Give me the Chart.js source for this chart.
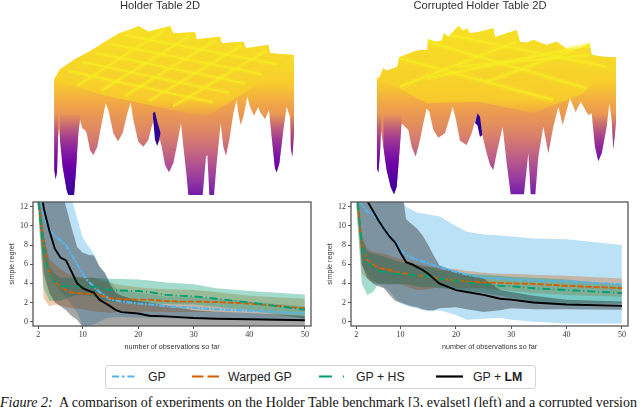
<!DOCTYPE html>
<html><head><meta charset="utf-8">
<script src="https://cdn.jsdelivr.net/npm/chart.js@4"></script>
<style>
html,body{margin:0;padding:0;background:#fff;width:640px;height:407px;overflow:hidden}
canvas{position:absolute}
#legend{position:absolute;left:105px;top:365px;width:429px;height:22px;border:1.5px solid #d4d4d4;border-radius:3px;font:12.3px "Liberation Sans",sans-serif;color:#222;box-sizing:content-box}
#legend span{position:absolute;top:3.5px;white-space:nowrap}
#legend svg{position:absolute;top:0;left:0}
#caption{position:absolute;left:0;top:395px;width:680px;white-space:nowrap;font:14px "Liberation Serif",serif;color:#111}
</style></head><body>
<canvas id="s1" width="320" height="195" style="left:0;top:0"></canvas>
<canvas id="s2" width="320" height="195" style="left:320px;top:0"></canvas>
<canvas id="c1" width="320" height="160" style="left:0;top:195px"></canvas>
<canvas id="c2" width="320" height="160" style="left:320px;top:195px"></canvas>
<div id="legend">
<svg width="429" height="22">
<line x1="6" x2="33" y1="10.5" y2="10.5" stroke="#56B4E9" stroke-width="2.2" stroke-dasharray="7,3,2.5,3,7"/>
<line x1="86" x2="113" y1="10.5" y2="10.5" stroke="#D55E00" stroke-width="2.2" stroke-dasharray="11.5,4"/>
<line x1="213" x2="240" y1="10.5" y2="10.5" stroke="#009E73" stroke-width="2.2" stroke-dasharray="13,11,1,2"/>
<line x1="330" x2="357" y1="10.5" y2="10.5" stroke="#000" stroke-width="2.2"/>
</svg>
<span style="left:42px">GP</span>
<span style="left:122px">Warped GP</span>
<span style="left:250px">GP + HS</span>
<span style="left:367px">GP + <b>LM</b></span>
</div>
<div id="caption"><i>Figure 2:</i>&nbsp; A comparison of experiments on the Holder Table benchmark [3, evalset] (left) and a corrupted version</div>
<script>
const observations=[2,3,4,5,6,7,8,9,10,11,12,13,14,15,16,17,20,22,25,28,30,34,40,50];
const xTickValues=[2,10,20,30,40,50];
const yTickValues=[0,2,4,6,8,10,12];
const seriesNames=["GP","Warped GP","GP + HS","GP + LM"];

// Holder Table 2D: simple regret
const leftGpMean=[14,11,9.6,9,8.5,8,7,6,5,4.2,3.7,3.1,2.7,2.3,2.2,2.1,1.9,1.8,1.6,1.5,1.45,1.3,1.15,.85];
const leftGpHigh=[16,16,16,16,16,15,12.8,10.8,8.8,7.9,7.1,5.8,5,4.1,3.5,3.3,3,2.9,2.6,2.6,2.6,2.4,2.1,1.6];
const leftGpLow=[12,7,5,4,3.2,2.5,1.8,1,-.5,-.5,-.3,0,.3,.4,.5,.5,.4,.4,.35,.3,.3,.25,.2,.1];
const leftWarpedMean=[13,8,5.2,4.1,3.7,3.3,3.05,3,2.95,2.9,2.9,2.8,2.6,2.45,2.4,2.35,2.3,2.3,2.15,2.1,2.1,2.05,1.9,1.4];
const leftWarpedHigh=[14,9,6.5,6,5.5,5.1,4.8,4.7,4.65,4.6,4.6,4.4,4.2,4.1,3.9,3.8,3.6,3.5,3.4,3.35,3.3,3.1,2.7,2.4];
const leftWarpedLow=[12,2.4,1.6,1.8,1.7,1.5,1.4,1.35,1.3,1.2,1.1,1,1,.9,1,1,1.05,1.05,1,1,1,1,.9,.4];
const leftHsMean=[12.5,7.5,5,4,3.7,3.7,3.7,3.7,3.65,3.65,3.65,3.6,3.45,3.3,3.25,3.25,3.2,3.1,2.8,2.7,2.65,2.4,2,1.25];
const leftHsHigh=[14,9,5.8,5,4.6,4.6,4.6,4.6,4.6,4.6,4.6,4.55,4.5,4.45,4.45,4.45,4.4,4.3,4.1,4,3.9,3.5,3.2,2.85];
const leftHsLow=[11,3.5,2.2,2.2,2.2,2.4,2.6,2.8,2.8,2.7,2.6,2.4,2.2,2.1,2,2,1.9,1.9,1.85,1.8,1.8,1.55,1.2,.3];
const leftLmMean=[16,11.8,9.5,7.6,6.7,6.4,5.2,4,3.5,3.25,3.05,2.3,1.95,1.6,1.2,1,.85,.62,.55,.45,.38,.3,.25,.15];
const leftLmHigh=[16,16,16,16,14,12,9.8,7.8,7.2,7,6.9,5.8,5.1,3.8,3,2.7,2.2,2,1.7,1.4,1.2,1.05,.9,.6];
const leftLmLow=[12,5,3,2,1.6,1.2,.6,.2,-.6,-.6,-.6,-.6,-.6,-.6,-.6,-.6,-.6,-.6,-.6,-.6,-.6,-.6,-.6,-.6];

// Corrupted Holder Table 2D: simple regret
const rightGpMean=[15,12.2,11.5,11.2,10.8,9.8,9,8.4,7.5,7,6.7,6.5,6.3,6.1,5.9,5.7,5.2,4.9,4.6,4.5,4.4,4.3,4.2,3.9];
const rightGpHigh=[17,17,17,17,17,17,17,17,13,12,11.7,11.4,11.3,11.2,11.1,11,10,9.4,9.1,9,8.9,8.7,8.6,8];
const rightGpLow=[13,6,5,4.3,3.9,3.6,3.2,2.5,1.9,1.7,1.5,1.4,1.2,1.1,1.1,1.2,.7,.2,.3,.4,.2,0,-.2,-.2];
const rightWarpedMean=[14,8,6.4,6,5.6,5.5,5.4,5.2,5.1,5,4.9,4.8,4.8,4.7,4.6,4.5,4.3,4.2,4.1,4.05,4,3.95,3.75,3.5];
const rightWarpedHigh=[15,9,7.6,7.3,7.2,7.1,6.9,6.7,6.5,6.4,6.2,6,5.9,5.8,5.7,5.6,5.5,5.3,5.1,5,5,4.9,4.8,4.5];
const rightWarpedLow=[12,5,4.5,4.2,4,4,3.9,3.9,3.9,3.7,3.5,3.3,3.3,3.4,3.5,3.6,3.5,3.5,3.5,3.3,3.2,3,2.8,2.6];
const rightHsMean=[14,8,6.2,5.7,5.3,5.2,5.1,5,5,4.9,4.9,4.8,4.8,4.7,4.6,4.5,4.3,4.1,3.9,3.75,3.7,3.5,3.3,3];
const rightHsHigh=[15,8.6,7.3,7.1,7,6.8,6.6,6.4,6.2,6.1,6,5.9,5.8,5.7,5.6,5.4,5.2,5,4.9,4.8,4.7,4.6,4.4,3.8];
const rightHsLow=[12,4,2.8,3.1,3.9,3.9,3.9,3.9,3.9,3.9,3.8,3.7,3.6,3.6,3.6,3.5,3.4,3.2,3,2.7,2.5,2,1.9,1.9];
const rightLmMean=[17,14,12.6,11.6,10.6,9.7,8.9,8.3,7.2,6.2,6,5.7,5.4,5,4.5,4,3.3,3.1,2.8,2.4,2.3,2,1.8,1.65];
const rightLmHigh=[17,17,17,17,17,17,17,17,15,10.7,10.2,9.7,9,8,6.9,5.9,5.2,4.9,4.5,3.3,3.1,2.7,2.3,2.1];
const rightLmLow=[14,6,4.5,4,3.7,3.5,2.8,2.2,2,1.8,1.6,1.5,1.3,1.2,1.2,1.4,1.5,1.3,1,1.2,1.4,1.3,1.3,1.25];

// Surface silhouettes in projected units
const s1TopX=[162,180,225,272,315,358,402,415,445,510,520,585,590,660,665,730,738,805,810,882];
const s1TopY=[240,208,178,152,125,100,85,78,95,78,100,97,118,110,130,125,145,135,160,165];
const s1BotX=[162,163,167,171,174,177,180,188,200,205,222,228,235,240,247,255,260,270,280,292,305,317,325,340,354,368,382,392,400,415,430,445,455,465,470,480,485,495,507,520,530,543,548,560,565,608,618,622,628,642,650,662,670,678,688,700,710,715,722,730,742,750,762,775,780,795,807,815,825,830,838,850,860,870,872,877,882];
const s1BotY=[240,510,538,515,420,385,420,500,570,585,585,510,400,360,385,390,400,450,466,440,370,310,330,400,424,400,340,308,360,425,440,420,380,350,437,420,440,495,517,490,440,370,420,530,585,585,470,465,585,585,490,370,440,467,420,340,300,340,375,350,290,320,347,320,335,358,330,410,505,517,490,390,320,350,440,470,400];
const s1PlateauX=[162,310,540,620,745,882];
const s1PlateauY=[240,285,335,350,270,165];
const s1WellsX=[[162,163,167,171,174],[180,188,200,205,222,228,235,240],[807,815,825,830,838,850,860],[872,877,882]];
const s1WellsTop=[[340,340,340,340,340],[340,340,340,340,340,340,340,340],[300,300,300,300,300,300,300],[300,300,300]];
const s1WellsBot=[[340,510,538,515,420],[420,500,570,585,585,510,400,360],[330,410,505,517,490,390,320],[440,470,400]];
const s1SliverX=[458,465,472,482];
const s1SliverTop=[340,335,365,400];
const s1SliverBot=[340,420,437,400];
const s1RidgeX=[[204,638],[246,687],[288,735],[331,783],[373,832],[492,233],[570,305],[647,376],[725,447],[802,519]];
const s1RidgeY=[[213,307],[186,278],[159,250],[132,222],[105,193],[92,256],[107,272],[121,287],[136,303],[150,319]];

const s2TopX=[170,175,190,200,232,238,280,300,322,325,345,365,372,385,400,415,430,440,450,480,520,525,560,590,600,620,640,680,710,745,780,808,815,850,888];
const s2TopY=[230,240,205,212,200,172,155,150,150,118,125,122,100,110,95,78,92,85,100,95,85,112,100,90,125,128,120,135,125,150,145,130,165,170,172];
const s2BotX=[170,171,175,180,183,190,200,212,222,230,238,245,255,265,275,287,300,310,320,328,340,355,375,390,398,408,420,440,455,472,480,487,500,510,520,530,548,560,572,612,625,632,646,655,670,685,700,715,728,750,767,782,805,815,825,835,845,860,868,875,880,888];
const s2BotY=[230,505,518,460,390,440,510,560,583,560,460,370,380,390,440,470,420,370,325,335,390,413,400,350,320,360,422,435,400,340,410,405,460,495,510,460,380,490,583,583,460,583,583,470,380,460,380,320,375,295,337,305,345,340,440,483,460,380,310,360,448,370];
const s2PlateauX=[170,320,480,640,790,888];
const s2PlateauY=[230,310,305,340,280,172];
const s2WellsX=[[170,171,175,180,183],[190,200,212,222,230,238,245],[815,825,835,845,860,868],[875,880,888]];
const s2WellsTop=[[330,330,330,330,330],[330,330,330,330,330,330,330],[300,300,300,300,300,300],[300,300,300]];
const s2WellsBot=[[330,505,518,460,390],[440,510,560,583,560,460,370],[340,440,483,460,380,310],[360,448,370]];
const s2SliverX=[465,472,480,487];
const s2SliverTop=[370,340,350,405];
const s2SliverBot=[370,375,410,405];
const s2RidgeX=[[240,590],[322,810],[410,810],[322,800],[240,700],[390,860],[500,760]];
const s2RidgeY=[[260,125],[235,135],[200,165],[125,265],[175,300],[105,200],[245,150]];

const BLUE="#56B4E9",ORANGE="#D55E00",GREEN="#009E73";
const pts=(xs,ys)=>xs.map((x,i)=>({x,y:ys[i]}));

function lineSet(mean,color,dash,order,w){
  return {label:"",data:pts(observations,mean),borderColor:color,borderWidth:w||1.9,borderDash:dash,pointRadius:0,fill:false,order,tension:0};
}
function bandSets(high,low,fill,order){
  return [
    {data:pts(observations,high),borderWidth:0,borderColor:"transparent",pointRadius:0,fill:false,order},
    {data:pts(observations,low),borderWidth:0,borderColor:"transparent",pointRadius:0,fill:"-1",backgroundColor:fill,order}
  ];
}
const boxPlugin={id:"box",afterDatasetsDraw(ch){
  const a=ch.chartArea,c=ch.ctx;c.save();c.strokeStyle="#555";c.lineWidth=1.3;
  c.strokeRect(a.left,a.top,a.right-a.left,a.bottom-a.top);c.restore();
}};
const serif='"Liberation Serif",serif',sans='"Liberation Sans",sans-serif';
function regret(id,leftW,rightPad,arr){
  new Chart(document.getElementById(id),{type:"line",plugins:[boxPlugin],
    data:{datasets:[
      lineSet(arr.lmM,"#000",[],1),
      lineSet(arr.hsM,GREEN,[8,3,1,3],2),
      lineSet(arr.wM,ORANGE,[6,2],3),
      lineSet(arr.gpM,BLUE,[6,1.5,2,1.5],4,2.2),
      ...bandSets(arr.lmH,arr.lmL,"rgba(40,40,40,.42)",5),
      ...bandSets(arr.hsH,arr.hsL,"rgba(0,158,115,.36)",6),
      ...bandSets(arr.wH,arr.wL,"rgba(213,94,0,.32)",7),
      ...bandSets(arr.gpH,arr.gpL,"rgba(86,180,233,.40)",8)
    ]},
    options:{responsive:false,animation:false,
      layout:{padding:{top:7,right:rightPad,left:0,bottom:0}},
      plugins:{legend:{display:false},tooltip:{enabled:false}},
      scales:{
        x:{type:"linear",min:1.05,max:51.1,grid:{drawOnChartArea:false,tickLength:3,color:"#555"},border:{display:false},
          afterBuildTicks:s=>{s.ticks=xTickValues.map(v=>({value:v}))},
          afterFit:s=>{s.height=29},
          ticks:{font:{family:serif,size:8},color:"#333",maxRotation:0,padding:1,autoSkip:false},
          title:{display:true,text:"number of observations so far",font:{family:sans,size:7.2},color:"#333",padding:{top:0,bottom:4}}},
        y:{type:"linear",min:-0.45,max:12.5,grid:{drawOnChartArea:false,tickLength:3,color:"#555"},border:{display:false},
          afterBuildTicks:s=>{s.ticks=yTickValues.map(v=>({value:v}))},
          afterFit:s=>{s.width=leftW},
          ticks:{font:{family:serif,size:8},color:"#333",padding:2,autoSkip:false},
          title:{display:true,text:"simple regret",font:{family:sans,size:7.2},color:"#333",padding:{top:leftW-25,bottom:0}}}
      }}});
}
regret("c1",33,9,{gpM:leftGpMean,gpH:leftGpHigh,gpL:leftGpLow,wM:leftWarpedMean,wH:leftWarpedHigh,wL:leftWarpedLow,hsM:leftHsMean,hsH:leftHsHigh,hsL:leftHsLow,lmM:leftLmMean,lmH:leftLmHigh,lmL:leftLmLow});
regret("c2",31,12,{gpM:rightGpMean,gpH:rightGpHigh,gpL:rightGpLow,wM:rightWarpedMean,wH:rightWarpedHigh,wL:rightWarpedLow,hsM:rightHsMean,hsH:rightHsHigh,hsL:rightHsLow,lmM:rightLmMean,lmH:rightLmHigh,lmL:rightLmLow});

function gradient(stops,fallback){
  return c=>{
    const ch=c.chart;if(!ch.chartArea||!ch.scales.y)return fallback;
    const y=ch.scales.y,g=ch.ctx.createLinearGradient(0,y.getPixelForValue(stops[0][0]),0,y.getPixelForValue(stops[stops.length-1][0]));
    const a=stops[0][0],b=stops[stops.length-1][0];
    stops.forEach(s=>g.addColorStop((s[0]-a)/(b-a),s[1]));
    return g;
  };
}
const bodyStops=[[130,"#f3e925"],[250,"#f8cb2c"],[320,"#efa24a"],[400,"#dc8468"],[470,"#bd5f86"],[530,"#9b3f9f"],[590,"#6f17aa"]];
const plateauStops=[[80,"#f6e024"],[240,"#f7d12a"],[300,"rgba(248,205,42,.9)"],[355,"rgba(248,190,45,0)"]];
const wellStops=[[340,"rgba(126,3,168,0)"],[420,"rgba(122,10,170,.6)"],[500,"#6a00a8"],[590,"#2f049a"]];
const hidden={borderWidth:0,borderColor:"transparent",pointRadius:0,fill:false};
function surface(id,title,d){
  const ridges=d.rx.flatMap((rx,i)=>[
    {data:pts(rx,d.ry[i]),borderColor:"rgba(248,240,35,.6)",borderWidth:d.rw,pointRadius:0,fill:false,order:1},
    {data:pts(rx,d.ry[i]),borderColor:"rgba(248,235,35,.28)",borderWidth:d.rw*2.6,pointRadius:0,fill:false,order:1}
  ]);
  const wells=d.wx.flatMap((wx,i)=>[
    {...hidden,data:pts(wx,d.wt[i]),order:3},
    {...hidden,data:pts(wx,d.wb[i]),fill:"-1",backgroundColor:gradient(wellStops,"#6a00a8"),order:3}
  ]);
  new Chart(document.getElementById(id),{type:"line",
    data:{datasets:[
      ...ridges,
      {...hidden,data:pts(d.sx,d.st),order:2},
      {...hidden,data:pts(d.sx,d.sb),fill:"-1",backgroundColor:"#2c0594",order:2},
      ...wells,
      {...hidden,data:pts(d.tx,d.ty),order:4},
      {...hidden,data:pts(d.px,d.py),fill:"-1",backgroundColor:gradient(plateauStops,"#f7cd2c"),order:4},
      {...hidden,data:pts(d.tx,d.ty),order:5},
      {...hidden,data:pts(d.bx,d.by),fill:"-1",backgroundColor:gradient(bodyStops,"#f9c52e"),order:5}
    ]},
    options:{responsive:false,animation:false,layout:{padding:0},
      plugins:{legend:{display:false},tooltip:{enabled:false},
        title:{display:true,text:title,color:"#333",font:{family:sans,size:11.2,weight:"normal",lineHeight:1},padding:0}},
      scales:{x:{type:"linear",min:0,max:960,display:false},y:{type:"linear",reverse:true,min:33.6,max:585,display:false}}}});
}
surface("s1","Holder Table 2D",{tx:s1TopX,ty:s1TopY,bx:s1BotX,by:s1BotY,px:s1PlateauX,py:s1PlateauY,wx:s1WellsX,wt:s1WellsTop,wb:s1WellsBot,sx:s1SliverX,st:s1SliverTop,sb:s1SliverBot,rx:s1RidgeX,ry:s1RidgeY,rw:2});
surface("s2","Corrupted Holder Table 2D",{tx:s2TopX,ty:s2TopY,bx:s2BotX,by:s2BotY,px:s2PlateauX,py:s2PlateauY,wx:s2WellsX,wt:s2WellsTop,wb:s2WellsBot,sx:s2SliverX,st:s2SliverTop,sb:s2SliverBot,rx:s2RidgeX,ry:s2RidgeY,rw:2.5});
</script>
</body></html>
